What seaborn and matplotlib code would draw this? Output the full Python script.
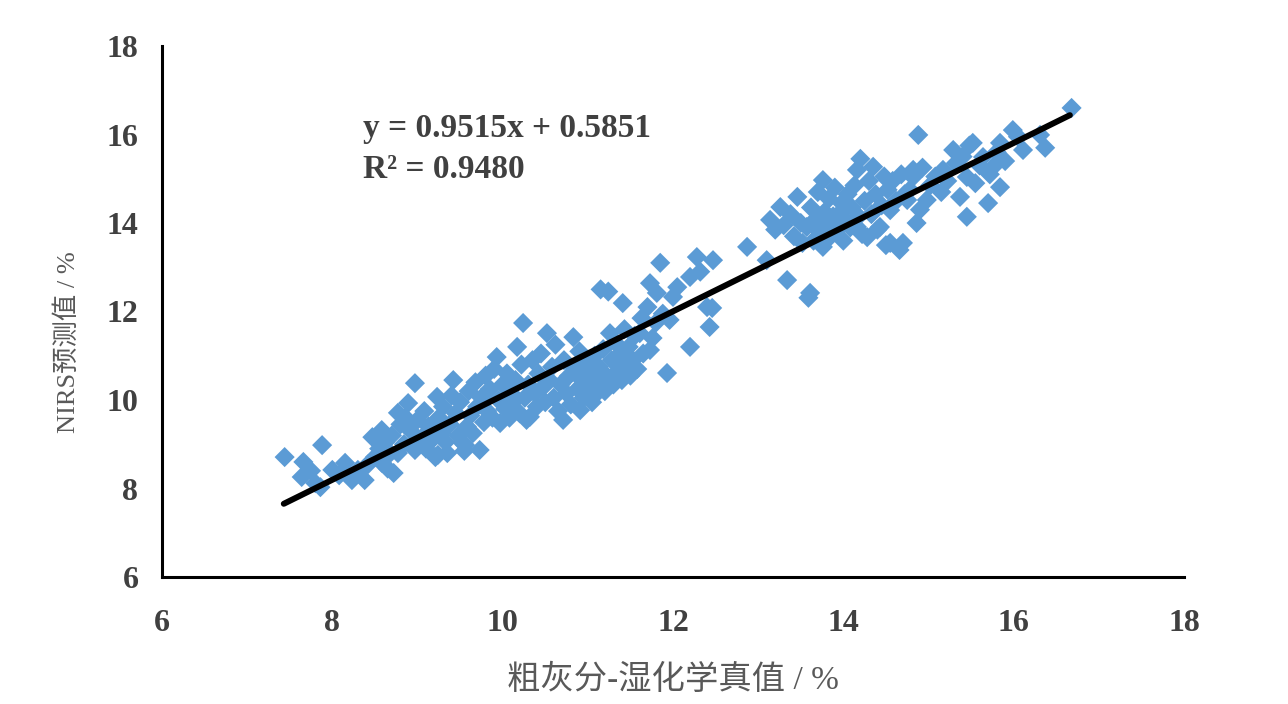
import matplotlib
matplotlib.use("Agg")
import matplotlib.pyplot as plt
import seaborn as sns
import pandas as pd

# ---- data ----
true_val = [
    7.44, 7.66, 7.88, 7.64, 7.80, 7.86, 7.75, 8.00, 8.08, 8.15, 8.23, 8.30, 8.38, 8.42, 8.47, 8.50,
    8.55, 8.58, 8.58, 8.62, 8.65, 8.68, 8.70, 8.72,
    8.77, 8.77, 8.80, 8.84, 8.86, 8.89, 8.92, 8.95, 8.97, 8.97, 9.00, 9.05, 9.08, 9.10, 9.13, 9.17,
    9.21, 9.23, 9.25, 9.28, 9.30, 9.33, 9.35, 9.38, 9.40, 9.42, 9.45, 9.48, 9.50, 9.53, 9.55, 9.58,
    9.60, 9.62, 9.24, 9.56,
    9.65, 9.68, 9.70, 9.73, 9.75, 9.78, 9.80, 9.82, 9.85, 9.88, 9.90, 9.93, 9.95, 9.97, 10.00, 10.03,
    10.05, 10.08, 10.10, 10.12, 10.15, 10.17, 10.20, 10.22, 10.24, 10.26, 10.28, 10.30, 10.32, 10.35,
    10.38, 10.40, 10.42, 10.45, 10.48, 10.50, 10.52, 10.55, 10.58, 10.60,
    10.62, 10.65, 10.68, 10.71, 10.72, 10.75, 10.78, 10.80, 10.83, 10.85, 10.88, 10.90, 10.91, 10.93,
    10.95, 10.98, 11.00, 11.02, 11.05, 11.08, 11.10, 11.11, 11.13, 11.15, 11.18, 11.20, 11.22, 11.24,
    11.26, 11.28, 11.30, 11.32, 11.35, 11.38, 11.40, 11.41, 11.43, 11.45, 11.48, 11.50, 11.53, 11.55,
    11.58, 11.61, 11.63, 11.65,
    11.70, 11.73, 11.73, 11.76, 11.80, 11.81, 11.85, 11.88, 11.93, 11.96, 12.00, 12.05, 12.20, 12.20,
    12.28, 12.32, 12.40, 12.43, 12.47, 12.46,
    12.87, 13.10, 13.14, 13.20, 13.26, 13.30, 13.34, 13.38, 13.42, 13.46, 13.50, 13.52, 13.57, 13.59,
    13.61, 13.62,
    13.65, 13.68, 13.70, 13.72, 13.76, 13.76, 13.78, 13.80, 13.83, 13.85, 13.88, 13.90, 13.93, 13.96,
    13.98, 14.00, 14.03, 14.05, 14.08, 14.10, 14.13, 14.16, 14.16, 14.18, 14.20, 14.22, 14.25, 14.28,
    14.30, 14.33, 14.35, 14.38, 14.40, 14.43, 14.45, 14.48, 14.50, 14.52, 14.55, 14.55, 14.58, 14.62,
    14.66, 14.68, 14.70, 14.72, 14.75, 14.78, 14.82, 14.82, 14.86, 14.88, 14.90, 14.93,
    14.98, 15.02, 15.08, 15.15, 15.17, 15.22, 15.29, 15.32, 15.37, 15.40, 15.45, 15.45, 15.48, 15.52,
    15.55, 15.60, 15.64, 15.70, 15.72, 15.76, 15.80, 15.84, 15.84, 15.90, 15.99, 16.05, 16.11, 16.31,
    16.37, 16.68,
]
nirs_pred = [
    8.71, 8.60, 8.98, 8.26, 8.12, 8.03, 8.40, 8.42, 8.30, 8.58, 8.19, 8.42, 8.19, 8.55, 9.16, 8.71,
    8.90, 9.32, 8.58, 9.05, 8.45, 8.80, 9.20, 8.35,
    9.71, 8.80, 9.45, 9.00, 9.60, 9.93, 9.30, 8.95, 10.38, 8.87, 9.55, 9.15, 9.75, 8.90, 9.40, 9.10,
    8.71, 10.07, 9.60, 9.25, 9.85, 9.05, 8.80, 9.45, 10.10, 10.45, 9.70, 9.20, 9.95, 9.03, 8.85, 9.40,
    10.20, 9.65, 8.76, 8.98,
    9.25, 10.40, 9.85, 8.87, 10.05, 9.50, 10.55, 9.75, 10.25, 9.60, 10.70, 10.97, 10.00, 9.48, 10.35, 9.80,
    10.60, 9.60, 10.15, 9.95, 10.45, 11.20, 9.70, 10.80, 11.74, 10.05, 9.55, 10.35, 9.62, 10.90,
    10.15, 9.85, 10.60, 11.05, 10.30, 9.95, 11.51, 10.45, 10.75, 10.05,
    11.25, 9.75, 10.35, 9.55, 10.90, 10.15, 10.55, 9.90, 11.42, 10.70, 10.25, 11.10, 9.77, 10.45,
    10.05, 10.85, 10.30, 10.60, 9.95, 11.00, 10.40, 10.16, 10.75, 12.50, 11.15, 10.20, 10.55, 12.45,
    11.51, 10.90, 10.35, 11.30, 10.65, 11.05, 10.45, 12.19, 11.60, 10.80, 11.20, 10.55, 10.90, 11.45,
    10.70, 11.51, 11.85, 11.05,
    12.10, 12.64, 11.13, 11.40, 11.75, 12.42, 13.10, 11.95, 10.61, 11.81, 12.33, 12.55, 12.78, 11.20,
    13.23, 12.90, 12.10, 11.65, 13.16, 12.08,
    13.46, 13.16, 14.07, 13.85, 14.36, 13.95, 12.71, 14.20, 13.70, 14.59, 14.00, 13.55, 13.91, 12.31,
    12.42, 14.35,
    13.60, 14.10, 14.70, 13.80, 14.97, 13.46, 14.25, 13.95, 14.55, 13.70, 14.15, 14.80, 13.85, 14.23,
    14.45, 13.60, 14.05, 14.65, 13.90, 14.35, 14.85, 13.91, 15.20, 14.15, 15.45, 13.75, 14.50, 13.68,
    14.95, 14.20, 15.27, 14.65, 13.85, 13.91, 14.40, 15.05, 13.50, 14.75, 13.55, 14.29, 14.95, 14.50,
    13.39, 15.10, 13.55, 14.65, 14.52, 14.75, 15.04, 15.20, 14.00, 15.99, 14.30, 15.25,
    14.52, 14.85, 15.05, 14.70, 15.20, 14.95, 15.65, 15.35, 14.59, 15.50, 14.14, 15.04, 15.75, 15.81,
    14.90, 15.30, 15.49, 14.45, 15.10, 15.27, 15.60, 14.81, 15.81, 15.40, 16.10, 15.95, 15.65, 15.99,
    15.70, 16.60,
]
slope = 0.9515
intercept = 0.5851
r_squared = 0.9480
fit_x = [7.43, 16.66]
x_ticks = [6, 8, 10, 12, 14, 16, 18]
y_ticks = [6, 8, 10, 12, 14, 16, 18]
x_label = "粗灰分-湿化学真值 / %"
y_label = "NIRS预测值 / %"

df = pd.DataFrame({"true": true_val, "pred": nirs_pred})

sns.set_theme(style="white")
plt.rcParams["font.family"] = ["Liberation Serif", "Noto Sans CJK SC", "DejaVu Sans"]

fig = plt.figure(figsize=(12.88, 7.04), dpi=100)
ax = fig.add_axes([162 / 1288, 1 - 577 / 704, (1184 - 162) / 1288, (577 - 46) / 704])

sns.scatterplot(data=df, x="true", y="pred", marker="D", s=105, color="#5B9BD5",
                linewidth=0, edgecolor="none", ax=ax, zorder=2)

fit_y = [slope * v + intercept for v in fit_x]
ax.plot(fit_x, fit_y, color="black", linewidth=4.3, solid_capstyle="round", zorder=3)

ax.set_xlim(6, 18)
ax.set_ylim(6, 18)
ax.set_xticks(x_ticks)
ax.set_yticks(y_ticks)
ax.set_xticklabels([str(t) for t in x_ticks])
ax.set_yticklabels([str(t) for t in y_ticks])
ax.tick_params(axis="both", length=0, labelsize=23, colors="#404040")
ax.tick_params(axis="x", pad=23)
ax.tick_params(axis="y", pad=17)
for lab in ax.get_xticklabels() + ax.get_yticklabels():
    lab.set_fontweight("bold")

for side in ["top", "right"]:
    ax.spines[side].set_visible(False)
for side in ["left", "bottom"]:
    ax.spines[side].set_color("black")
    ax.spines[side].set_linewidth(2.2)

ax.set_xlabel(x_label, fontsize=24, color="#595959",
              family=["Liberation Serif", "Noto Sans CJK SC"])
ax.set_ylabel(y_label, fontsize=19, color="#595959",
              family=["Liberation Serif", "Noto Sans CJK SC"])
ax.xaxis.set_label_coords(0.5, -0.165)
ax.yaxis.set_label_coords(-0.08, 0.443)

ax.text(8.36, 15.94, f"y = {slope:.4f}x + {intercept:.4f}", fontsize=24, fontweight="bold",
        color="#404040", ha="left", va="baseline")
ax.text(8.36, 15.02, f"R\u00b2 = {r_squared:.4f}", fontsize=24, fontweight="bold",
        color="#404040", ha="left", va="baseline")

fig.savefig("out.png", dpi=100, facecolor="white")
